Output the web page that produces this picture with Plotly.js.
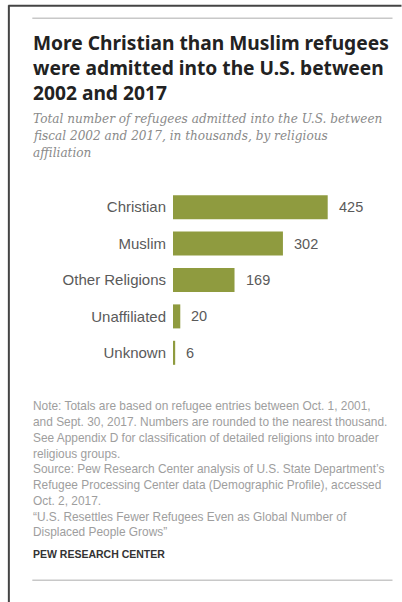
<!DOCTYPE html>
<html>
<head>
<meta charset="utf-8">
<script src="https://cdn.plot.ly/plotly-3.0.1.min.js"></script>
<style>
html,body{margin:0;padding:0;background:#fff;}
#chart{width:402px;height:602px;}
</style>
</head>
<body>
<div id="chart"></div>
<script>
// ---- data ----
const categories = ["Christian", "Muslim", "Other Religions", "Unaffiliated", "Unknown"];
const values = [425, 302, 169, 20, 6];

const titleLines = [
  "More Christian than Muslim refugees",
  "were admitted into the U.S. between",
  "2002 and 2017"
];
const subtitleLines = [
  "Total number of refugees admitted into the U.S. between",
  "fiscal 2002 and 2017, in thousands, by religious",
  "affiliation"
];
const noteLines = [
  "Note: Totals are based on refugee entries between Oct. 1, 2001,",
  "and Sept. 30, 2017. Numbers are rounded to the nearest thousand.",
  "See Appendix D for classification of detailed religions into broader",
  "religious groups.",
  "Source: Pew Research Center analysis of U.S. State Department\u2019s",
  "Refugee Processing Center data (Demographic Profile), accessed",
  "Oct. 2, 2017.",
  "\u201cU.S. Resettles Fewer Refugees Even as Global Number of",
  "Displaced People Grows\u201d"
];
const sourceLabel = "PEW RESEARCH CENTER";

// ---- layout geometry (pixels) ----
const W = 402, H = 602;
const ml = 173, mr = 46.6, mt = 188.75, mb = 231.25;
const pw = W - ml - mr, ph = H - mt - mb;
const px = x => (x - ml) / pw;
const py = y => (H - mb - y) / ph;

const annotations = [];
annotations.push({
  text: titleLines.join("<br>"), xref: "paper", yref: "paper", x: px(31), y: py(67),
  xanchor: "left", yanchor: "middle", align: "left", showarrow: false,
  font: {family: "Noto Sans", size: 19.2, color: "#222", weight: 700}
});
const subY = [119, 136, 153];
subtitleLines.forEach((t, i) => annotations.push({
  text: "<i>" + t + "</i>", xref: "paper", yref: "paper", x: px(31), y: py(subY[i]),
  xanchor: "left", yanchor: "middle", showarrow: false,
  font: {family: "DejaVu Serif", size: 12.1, color: "#8a8a8a"}
}));
const noteY0 = 406, noteStep = 15.75;
noteLines.forEach((t, i) => annotations.push({
  text: t, xref: "paper", yref: "paper", x: px(31), y: py(noteY0 + i * noteStep),
  xanchor: "left", yanchor: "middle", showarrow: false,
  font: {family: "Liberation Sans", size: 11.9, color: "#9e9e9e"}
}));
annotations.push({
  text: "<b>" + sourceLabel + "</b>", xref: "paper", yref: "paper", x: px(31), y: py(554),
  xanchor: "left", yanchor: "middle", showarrow: false,
  font: {family: "Liberation Sans", size: 10.5, color: "#333"}
});
// value labels
categories.forEach((c, i) => annotations.push({
  text: String(values[i]), xref: "x", yref: "y", x: values[i], y: c,
  xanchor: "left", yanchor: "middle", xshift: 9, showarrow: false,
  font: {family: "Liberation Sans", size: 14.5, color: "#5a5a5a"}
}));

const shapes = [
  {type: "line", xref: "paper", yref: "paper", x0: px(8), x1: px(402), y0: py(5.5), y1: py(5.5),
   line: {color: "#444", width: 2}},
  {type: "line", xref: "paper", yref: "paper", x0: px(8.5), x1: px(8.5), y0: py(5), y1: py(602),
   line: {color: "#444", width: 2}},
  {type: "line", xref: "paper", yref: "paper", x0: px(32), x1: px(393), y0: py(18), y1: py(18),
   line: {color: "#c8c8c8", width: 1.5}},
  {type: "line", xref: "paper", yref: "paper", x0: px(32), x1: px(393), y0: py(580), y1: py(580),
   line: {color: "#c8c8c8", width: 1.5}}
];

const trace = {
  type: "bar", orientation: "h",
  x: values, y: categories,
  marker: {color: "#8f9b3f"},
  hoverinfo: "none"
};

const layout = {
  width: W, height: H,
  margin: {l: ml, r: mr, t: mt, b: mb, pad: 0},
  paper_bgcolor: "#fff", plot_bgcolor: "#fff",
  showlegend: false,
  bargap: 0.34,
  xaxis: {range: [0, 500], visible: false, fixedrange: true},
  yaxis: {
    type: "category", autorange: "reversed", showgrid: false, zeroline: false,
    showline: false, ticks: "", ticklabelstandoff: 6,
    tickfont: {family: "Liberation Sans", size: 15, color: "#5a5a5a"}, fixedrange: true
  },
  annotations: annotations,
  shapes: shapes
};

Plotly.newPlot("chart", [trace], layout, {displayModeBar: false, staticPlot: true});
</script>
</body>
</html>
